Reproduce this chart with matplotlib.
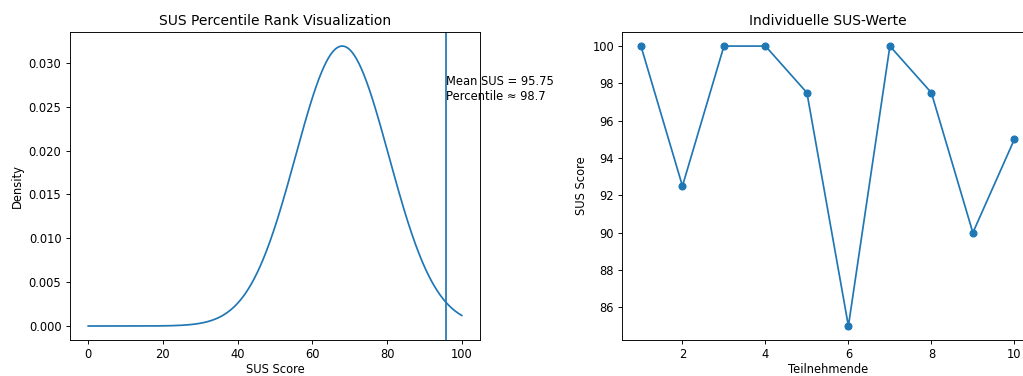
import numpy as np
import matplotlib
matplotlib.use("Agg")
import matplotlib.pyplot as plt

# SUS benchmark distribution (normal, mean 68, sd 12.5)
sus_mean_benchmark = 68
sus_sd_benchmark = 12.5

participants = [1, 2, 3, 4, 5, 6, 7, 8, 9, 10]
sus_scores = [100, 92.5, 100, 100, 97.5, 85, 100, 97.5, 90, 95]

mean_sus = np.mean(sus_scores)
percentile = 98.7

x = np.linspace(0, 100, 500)
pdf = np.exp(-0.5 * ((x - sus_mean_benchmark) / sus_sd_benchmark) ** 2) / (sus_sd_benchmark * np.sqrt(2 * np.pi))

dpi = 83
fig = plt.figure(figsize=(1023 / dpi, 376 / dpi), dpi=dpi)

ax1 = fig.add_axes([0.068, 0.0957, 0.4016, 0.819])
ax1.plot(x, pdf)
ax1.axvline(mean_sus)
ax1.text(mean_sus, 0.0258, f"Mean SUS = {mean_sus:.2f}\nPercentile ≈ {percentile}")
ax1.set_title("SUS Percentile Rank Visualization")
ax1.set_xlabel("SUS Score", labelpad=2)
ax1.set_ylabel("Density")

ax2 = fig.add_axes([0.6083, 0.0957, 0.4015, 0.819])
ax2.plot(participants, sus_scores, marker="o")
ax2.set_title("Individuelle SUS-Werte")
ax2.set_xlabel("Teilnehmende", labelpad=2)
ax2.set_ylabel("SUS Score")

fig.savefig("out.png", dpi=dpi)
